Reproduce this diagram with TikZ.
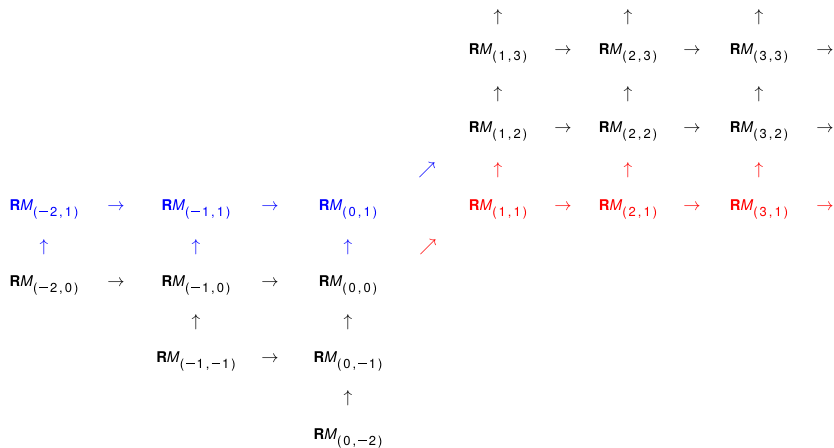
\documentclass[tikz,border=0pt]{standalone}
\usepackage{fontspec}
\setmainfont{TeX Gyre Heros}
\newcommand\gp{\kern2pt}
\newcommand\RMs[2]{\textbf{R}\textit{M}\raisebox{-6pt}{\fontsize{13}{15}\selectfont(\gp#1\gp,\gp#2\gp)}}
\newcommand\mneg{\raisebox{4.3pt}{\rule{8.6pt}{0.6pt}}\gp}
\begin{document}
\begin{tikzpicture}[x=1pt,y=-1pt,
  every node/.style={inner sep=0pt},
  rm/.style={anchor=base, font=\fontsize{14.8}{17}\selectfont},
  ha/.style={anchor=base, font=\fontsize{17}{20}\selectfont},
  va/.style={anchor=center, font=\fontsize{17}{20}\selectfont}]
\useasboundingbox (0,0) rectangle (834,447);
% row 1
\node[va] (u13a) at (498,17) {$\uparrow$};
\node[va] (u23a) at (628,17) {$\uparrow$};
\node[va] (u33a) at (759,17) {$\uparrow$};
% row 2
\node[rm] (m13) at (498,54) {\RMs{1}{3}};
\node[ha] (h13) at (563,54) {$\rightarrow$};
\node[rm] (m23) at (628,54) {\RMs{2}{3}};
\node[ha] (h23) at (692,54) {$\rightarrow$};
\node[rm] (m33) at (759,54) {\RMs{3}{3}};
\node[ha] (h33) at (825,54) {$\rightarrow$};
% row 3
\node[va] (u12) at (498,94) {$\uparrow$};
\node[va] (u22) at (628,94) {$\uparrow$};
\node[va] (u32) at (759,94) {$\uparrow$};
% row 4
\node[rm] (m12) at (498,132) {\RMs{1}{2}};
\node[ha] (h12) at (563,132) {$\rightarrow$};
\node[rm] (m22) at (628,132) {\RMs{2}{2}};
\node[ha] (h22) at (692,132) {$\rightarrow$};
\node[rm] (m32) at (759,132) {\RMs{3}{2}};
\node[ha] (h32) at (825,132) {$\rightarrow$};
% row 5
\node[va,blue] (d01) at (427,170) {$\nearrow$};
\node[va,red] (u11) at (498,170) {$\uparrow$};
\node[va,red] (u21) at (628,170) {$\uparrow$};
\node[va,red] (u31) at (759,170) {$\uparrow$};
% row 6
\node[rm,blue] (mm21) at (44,210) {\RMs{\mneg2}{1}};
\node[ha,blue] (hm21) at (116,210) {$\rightarrow$};
\node[rm,blue] (mm11) at (196,210) {\RMs{\mneg1}{1}};
\node[ha,blue] (hm11) at (270,210) {$\rightarrow$};
\node[rm,blue] (m01) at (348,210) {\RMs{0}{1}};
\node[rm,red] (m11) at (498,210) {\RMs{1}{1}};
\node[ha,red] (h11) at (563,210) {$\rightarrow$};
\node[rm,red] (m21) at (628,210) {\RMs{2}{1}};
\node[ha,red] (h21) at (692,210) {$\rightarrow$};
\node[rm,red] (m31) at (759,210) {\RMs{3}{1}};
\node[ha,red] (h31) at (825,210) {$\rightarrow$};
% row 7
\node[va,blue] (um20) at (44,247) {$\uparrow$};
\node[va,blue] (um10) at (196,247) {$\uparrow$};
\node[va,blue] (u00) at (348,247) {$\uparrow$};
\node[va,red] (d00) at (428,247) {$\nearrow$};
% row 8
\node[rm] (mm20) at (44,286) {\RMs{\mneg2}{0}};
\node[ha] (hm20) at (116,286) {$\rightarrow$};
\node[rm] (mm10) at (196,286) {\RMs{\mneg1}{0}};
\node[ha] (hm10) at (270,286) {$\rightarrow$};
\node[rm] (m00) at (348,286) {\RMs{0}{0}};
% row 9
\node[va] (um1m1) at (196,322) {$\uparrow$};
\node[va] (u0m1) at (348,322) {$\uparrow$};
% row 10
\node[rm] (mm1m1) at (196,362) {\RMs{\mneg1}{\mneg1}};
\node[ha] (hm1m1) at (270,362) {$\rightarrow$};
\node[rm] (m0m1) at (348,362) {\RMs{0}{\mneg1}};
% row 11
\node[va] (u0m2) at (348,398) {$\uparrow$};
% row 12
\node[rm] (m0m2) at (348,439) {\RMs{0}{\mneg2}};
\end{tikzpicture}
\end{document}
